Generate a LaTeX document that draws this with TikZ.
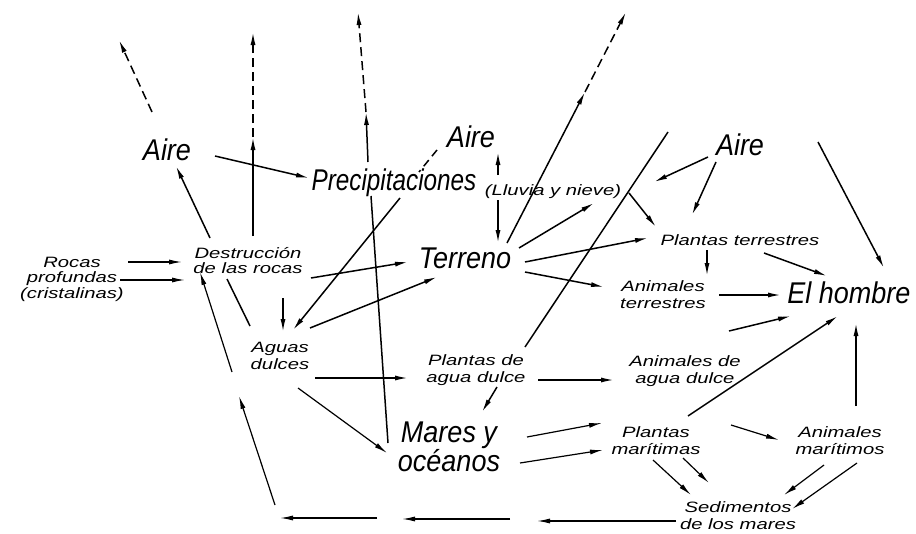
\documentclass[tikz,border=0pt]{standalone}
\usepackage{fontspec}
\usepackage{graphicx}
\setmainfont{Liberation Sans}
\newfontfamily\bigfnt{Liberation Sans}[FakeStretch=0.9]
\newfontfamily\smallfnt{Liberation Sans}[FakeStretch=1.35]
\newcommand\mlines[1]{\begin{tabular}[t]{@{}c@{}}#1\end{tabular}}
\usetikzlibrary{arrows.meta}
\begin{document}
\begin{tikzpicture}[x=1pt,y=-1pt,line width=1.5pt,
  big/.style={font=\bigfnt\itshape\fontsize{30pt}{26pt}\selectfont, inner sep=0pt, anchor=base},
  sml/.style={font=\smallfnt\itshape\fontsize{15pt}{17pt}\selectfont, inner sep=0pt, anchor=base},
  tight/.style={font=\smallfnt\itshape\fontsize{15pt}{15.5pt}\selectfont},
  arr/.style={-{Latex[length=13pt,width=5pt]}},
  dsh/.style={arr, dash pattern=on 9pt off 5pt},
  pln/.style={},
  thinl/.style={line width=1.2pt}]
\useasboundingbox (0,0) rectangle (916,533);
% nodes
\node[big] (aire1) at (167,160) {Aire};
\node[big] (aire2) at (471,147) {Aire};
\node[big] (aire3) at (740,155) {Aire};
\node[big] (precip) at (394,190) {\scalebox{0.9}[1]{Precipitaciones}};
\node[sml] (lluvia) at (553,195) {(Lluvia y nieve)};
\node[big] (terreno) at (465,268) {Terreno};
\node[big] (hombre) at (849,303) {El hombre};
\node[big] (mares) at (449,442) {\mlines{Mares y\\oc\'eanos}};
\node[sml,tight] (rocas) at (72,267) {\mlines{Rocas\\profundas\\(cristalinas)}};
\node[sml,tight] (destr) at (248,258) {\mlines{Destrucci\'on\\de las rocas}};
\node[sml] (plterr) at (740,245) {Plantas terrestres};
\node[sml] (anterr) at (663,291) {\mlines{Animales\\terrestres}};
\node[sml] (aguas) at (280,352) {\mlines{Aguas\\dulces}};
\node[sml] (pldulce) at (476,365) {\mlines{Plantas de\\agua dulce}};
\node[sml] (andulce) at (685,366) {\mlines{Animales de\\agua dulce}};
\node[sml] (plmar) at (656,437) {\mlines{Plantas\\mar\'itimas}};
\node[sml] (anmar) at (840,437) {\mlines{Animales\\mar\'itimos}};
\node[sml] (sedim) at (738,512) {\mlines{Sedimentos\\de los mares}};
% free ends
\coordinate (top1) at (119,40);
\coordinate (mid1) at (253,137);
\coordinate (top2) at (253,32);
\coordinate (mid3) at (366,112);
\coordinate (top3) at (358,12);
\coordinate (mid4) at (585,92);
\coordinate (top4) at (626,12);
\coordinate (top5) at (668,132);
\coordinate (top6) at (818,142);
\coordinate (b1) at (537,521);
\coordinate (b2) at (510,519);
\coordinate (b3) at (402,519);
\coordinate (b4) at (377,518);
\coordinate (b5) at (280,518);
\coordinate (b6) at (275,505);
\coordinate (b7) at (239,396);
\coordinate (b8) at (232,372);
% connectors
\draw[arr] ([shift={(48,-4)}]aire1.base) -- ([shift={(-85,-12)}]precip.base);
\draw[arr] ([shift={(-38,-20)}]destr.base) -- ([shift={(9,6)}]aire1.base);
\draw[dsh] ([shift={(-15,-48)}]aire1.base) -- (top1);
\draw[arr] ([shift={(5,-22)}]destr.base) -- (mid1);
\draw[dsh] (mid1) -- (top2);
\draw[pln] ([shift={(-61,1)}]mares.base) -- ([shift={(-23,6)}]precip.base);
\draw[arr] ([shift={(-26,-28)}]precip.base) -- (mid3);
\draw[dsh] (mid3) -- (top3);
\draw[pln, dash pattern=on 8pt off 5pt] ([shift={(-34,3)}]aire2.base) -- ([shift={(25,-18)}]precip.base);
\draw[arr] ([shift={(104,-15)}]precip.base) -- ([shift={(27,5)}]aire2.base);
\draw[arr] ([shift={(104,10)}]precip.base) -- ([shift={(33,-25)}]terreno.base);
\draw[arr] ([shift={(42,-25)}]terreno.base) -- (mid4);
\draw[dsh] (mid4) -- (top4);
\draw[arr] ([shift={(63,20)}]destr.base) -- ([shift={(-57,-6)}]terreno.base);
\draw[pln] ([shift={(-21,21)}]destr.base) -- ([shift={(-30,-26)}]aguas.base);
\draw[arr] ([shift={(35,40)}]destr.base) -- ([shift={(3,-20)}]aguas.base);
\draw[arr] ([shift={(6,8)}]precip.base) -- ([shift={(13,-22)}]aguas.base);
\draw[arr] ([shift={(30,-24)}]aguas.base) -- ([shift={(-28,9)}]terreno.base);
\draw[arr,thinl] ([shift={(56,-5)}]rocas.base) -- ([shift={(-66,4)}]destr.base);
\draw[arr,thinl] ([shift={(48,13)}]rocas.base) -- ([shift={(-63,22)}]destr.base);
\draw[arr] ([shift={(54,-20)}]terreno.base) -- ([shift={(41,8)}]lluvia.base);
\draw[arr] ([shift={(60,-6)}]terreno.base) -- ([shift={(-92,-7)}]plterr.base);
\draw[arr] ([shift={(60,4)}]terreno.base) -- ([shift={(-59,-4)}]anterr.base);
\draw[arr] ([shift={(76,-2)}]lluvia.base) -- ([shift={(-84,-18)}]plterr.base);
\draw[arr] ([shift={(-32,2)}]aire3.base) -- ([shift={(101,-13)}]lluvia.base);
\draw[arr] ([shift={(-24,7)}]aire3.base) -- ([shift={(-48,-30)}]plterr.base);
\draw[pln] ([shift={(49,-18)}]pldulce.base) -- (top5);
\draw[arr] (top6) -- ([shift={(35,-35)}]hombre.base);
\draw[arr] ([shift={(24,8)}]plterr.base) -- ([shift={(-22,-27)}]hombre.base);
\draw[arr] ([shift={(-33,5)}]plterr.base) -- ([shift={(44,-15)}]anterr.base);
\draw[arr] ([shift={(56,4)}]anterr.base) -- ([shift={(-68,-8)}]hombre.base);
\draw[arr] ([shift={(44,-35)}]andulce.base) -- ([shift={(-58,13)}]hombre.base);
\draw[arr] ([shift={(32,-21)}]plmar.base) -- ([shift={(-11,13)}]hombre.base);
\draw[arr] ([shift={(16,-31)}]anmar.base) -- ([shift={(7,20)}]hombre.base);
\draw[arr] ([shift={(35,26)}]aguas.base) -- ([shift={(-68,13)}]pldulce.base);
\draw[arr] ([shift={(62,15)}]pldulce.base) -- ([shift={(-71,14)}]andulce.base);
\draw[arr] ([shift={(21,22)}]pldulce.base) -- ([shift={(33,-30)}]mares.base);
\draw[arr,thinl] ([shift={(18,36)}]aguas.base) -- ([shift={(-62,11)}]mares.base);
\draw[arr,thinl] ([shift={(78,-5)}]mares.base) -- ([shift={(-54,-14)}]plmar.base);
\draw[arr,thinl] ([shift={(71,21)}]mares.base) -- ([shift={(-53,13)}]plmar.base);
\draw[arr,thinl] ([shift={(75,-12)}]plmar.base) -- ([shift={(-61,3)}]anmar.base);
\draw[arr,thinl] ([shift={(-3,23)}]plmar.base) -- ([shift={(-47,-17)}]sedim.base);
\draw[arr,thinl] ([shift={(27,21)}]plmar.base) -- ([shift={(-29,-29)}]sedim.base);
\draw[arr,thinl] ([shift={(-16,28)}]anmar.base) -- ([shift={(46,-17)}]sedim.base);
\draw[arr,thinl] ([shift={(17,26)}]anmar.base) -- ([shift={(54,-3)}]sedim.base);
\draw[arr,thinl] ([shift={(-62,9)}]sedim.base) -- (b1);
\draw[arr,thinl] (b2) -- (b3);
\draw[arr,thinl] (b4) -- (b5);
\draw[arr,thinl] (b6) -- (b7);
\draw[arr,thinl] (b8) -- ([shift={(-48,14)}]destr.base);
\end{tikzpicture}
\end{document}
